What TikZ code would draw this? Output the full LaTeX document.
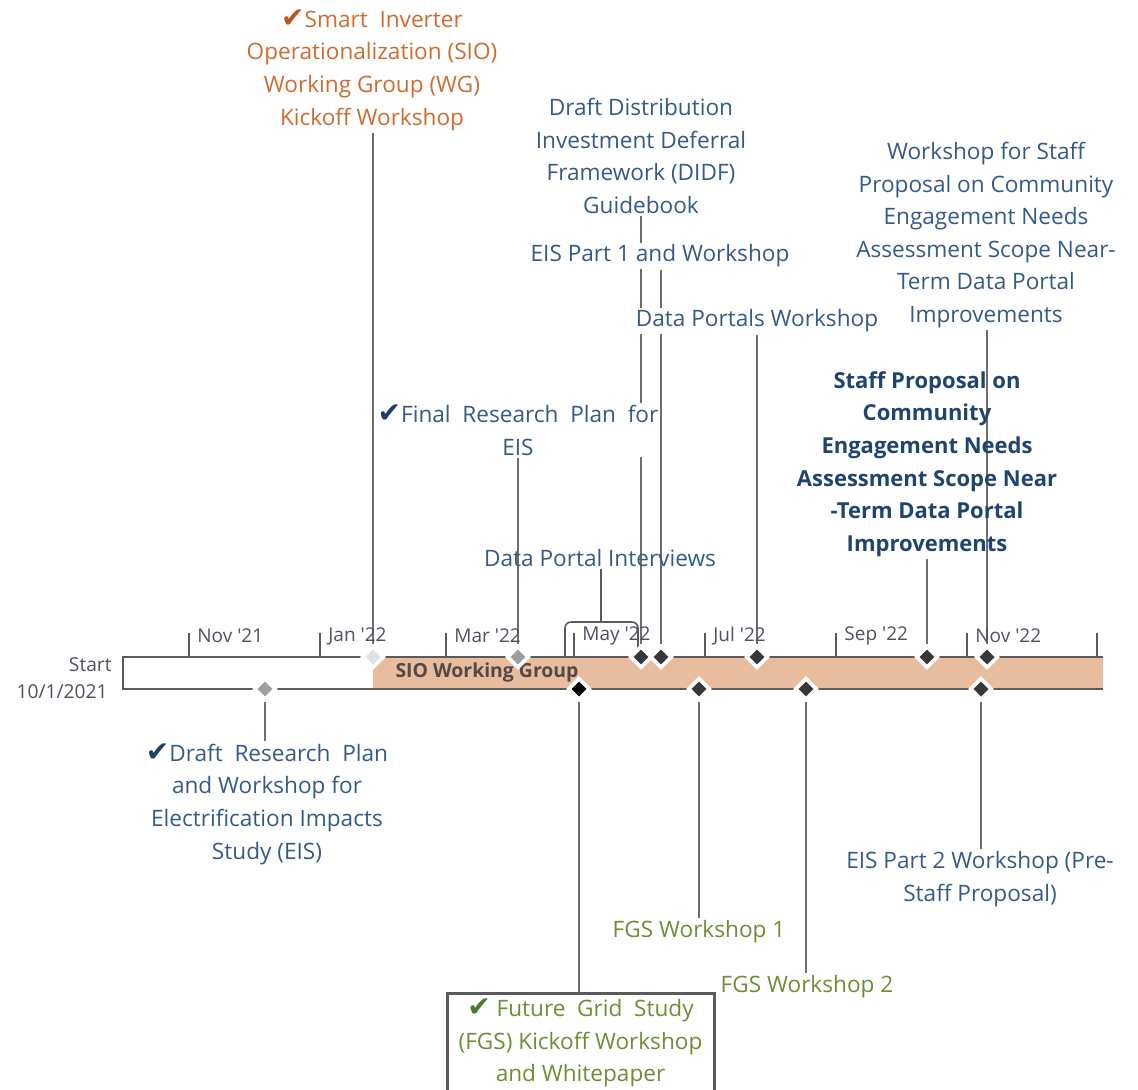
\documentclass[tikz,border=0pt]{standalone}
\usepackage{fontspec}
\setmainfont{Open Sans}
\newfontfamily\symfont{DejaVu Sans}
\usetikzlibrary{shapes,positioning,calc}

\definecolor{sioorange}{RGB}{205,108,48}
\definecolor{siocheck}{RGB}{190,85,25}
\definecolor{txtblue}{RGB}{52,90,135}
\definecolor{boldblue}{RGB}{31,68,110}
\definecolor{chkblue}{RGB}{30,62,105}
\definecolor{fgsgreen}{RGB}{108,142,52}
\definecolor{chkgreen}{RGB}{72,122,40}
\definecolor{linegray}{RGB}{110,110,110}
\definecolor{axisgray}{RGB}{90,90,90}
\definecolor{peach}{RGB}{232,188,158}
\definecolor{monthtxt}{RGB}{75,82,98}
\definecolor{bartxt}{RGB}{85,72,70}

\newcommand{\donemark}[1]{{\symfont\fontsize{14}{16.3}\selectfont\color{#1}✔}}

\pgfdeclarelayer{bg}
\pgfsetlayers{bg,main}

\tikzset{
  lbl/.style={align=center, inner sep=1pt, font=\fontsize{11.3}{16.3}\selectfont},
  hide/.style={fill=white},
  ms/.style={diamond, draw=white, line width=1.8pt, inner sep=0pt, minimum size=11pt, fill=#1},
  stem/.style={draw=linegray, line width=0.6pt},
  month/.style={anchor=west, inner sep=0pt, text=monthtxt, font=\fontsize{9.5}{11}\selectfont}
}

\begin{document}
\begin{tikzpicture}[x=0.5pt,y=-0.5pt]
\useasboundingbox (0,0) rectangle (1138,1089);

		% labels above the bar
		\node[lbl, hide, text=sioorange] (sio) at (372,70) {\donemark{siocheck}Smart\ \ Inverter\\Operationalization (SIO)\\Working Group (WG)\\Kickoff Workshop};
		\node[lbl, hide, text=txtblue] (didf) at (641,156) {Draft Distribution\\Investment Deferral\\Framework (DIDF)\\Guidebook};
		\node[lbl, hide, text=txtblue] (wsp) at (986,235) {Workshop for Staff\\Proposal on Community\\Engagement Needs\\Assessment Scope Near-\\Term Data Portal\\Improvements};
		\node[lbl, hide, text=txtblue] (eis1) at (660,256) {EIS Part 1 and Workshop};
		\node[lbl, hide, text=txtblue] (dpw) at (757,321) {Data Portals Workshop};
		\node[lbl, text=boldblue, font=\fontsize{11}{16.3}\selectfont\bfseries] (sp) at (927,464) {Staff Proposal on\\Community\\Engagement Needs\\Assessment Scope Near\\-Term Data Portal\\Improvements};
		\node[lbl, hide, text=txtblue] (frp) at (518,430) {\donemark{chkblue}Final\ \ Research\ \ Plan\ \ for\\EIS};
		\node[lbl, text=txtblue] (dpi) at (600,558) {Data Portal Interviews};

		% labels below the bar
		\node[lbl, text=txtblue] (drp) at (267,804) {\donemark{chkblue}Draft\ \ Research\ \ Plan\\and Workshop for\\Electrification Impacts\\Study (EIS)};
		\node[lbl, text=fgsgreen] (fgs1) at (699,932) {FGS Workshop 1};
		\node[lbl, text=fgsgreen] (fgs2) at (807,987) {FGS Workshop 2};
		\node[lbl, text=txtblue] (eis2) at (980,879) {EIS Part 2 Workshop (Pre-\\Staff Proposal)};
		\node[lbl, text=fgsgreen, draw=axisgray, line width=1.5pt, minimum width=133.5pt, minimum height=49.5pt] (fgs) at (580.5,1043) {\donemark{chkgreen}\ Future\ \ Grid\ \ Study\\(FGS) Kickoff Workshop\\and Whitepaper};

		% start
		\node[anchor=east, inner sep=0pt, text=monthtxt, font=\fontsize{9.6}{11}\selectfont] (start) at (112,665) {Start};
		\node[anchor=east, inner sep=0pt, text=monthtxt, font=\fontsize{9.6}{11}\selectfont] (startdate) at (108,692) {10/1/2021};

		% bar
		\begin{pgfonlayer}{bg}
		\fill[peach] (373,657) rectangle (1103,689);
		\end{pgfonlayer}
		\draw[axisgray, line width=1pt] (1103,657) -- (123,657) -- (123,689) -- (1103,689);
		\node[inner sep=0pt, text=bartxt, font=\fontsize{9.7}{11}\selectfont\bfseries] (sio-bar) at (487,672) {SIO Working Group};

		\foreach \x/\m in {189/Nov \textquotesingle21, 320/Jan \textquotesingle22, 446/Mar \textquotesingle22, 574/May \textquotesingle22, 705/Jul \textquotesingle22, 836/Sep \textquotesingle22, 967/Nov \textquotesingle22}{
			\draw[axisgray, line width=0.7pt] (\x,633) -- (\x,657);
			\node[month] at (\x+8,636) {\m};
		}
		\draw[axisgray, line width=0.7pt] (1097,633) -- (1097,657);

		% milestones
		\node[ms=black!12] (m-sio) at (373,657) {};
		\node[ms=black!38] (m-frp) at (518,657) {};
		\node[ms=black!78] (m-didf) at (641,657) {};
		\node[ms=black!78] (m-eis1) at (661,657) {};
		\node[ms=black!78] (m-dpw) at (757,657) {};
		\node[ms=black!78] (m-sp) at (927,657) {};
		\node[ms=black!78] (m-wsp) at (987,657) {};
		\node[ms=black!38] (m-drp) at (265,689) {};
		\node[ms=black] (m-fgs) at (579,689) {};
		\node[ms=black!78] (m-fgs1) at (699,689) {};
		\node[ms=black!78] (m-fgs2) at (806,689) {};
		\node[ms=black!78] (m-eis2) at (981,689) {};

		% bracket
		\coordinate (br-a) at (565,657);
		\coordinate (br-top) at (601,622);
		\coordinate (br-b) at (638,650);

		\begin{pgfonlayer}{bg}
		\draw[stem] (sio.south -| m-sio) -- (m-sio);
		\draw[stem] (didf.south -| m-didf) -- (m-didf);
		\draw[stem] (eis1.south -| m-eis1) -- (m-eis1);
		\draw[stem] (dpw.south -| m-dpw) -- (m-dpw);
		\draw[stem] (wsp.south -| m-wsp) -- (m-wsp);
		\draw[stem] (sp.south -| m-sp) -- (m-sp);
		\draw[stem] (frp.south -| m-frp) -- (m-frp);
		\draw[stem] (m-drp) -- (drp.north -| m-drp);
		\draw[stem] (m-fgs) -- (fgs.north -| m-fgs);
		\draw[stem] (m-fgs1) -- (fgs1.north -| m-fgs1);
		\draw[stem] (m-fgs2) -- (fgs2.north -| m-fgs2);
		\draw[stem] (m-eis2) -- (eis2.north -| m-eis2);
		\draw[axisgray, line width=0.8pt, rounded corners=3pt] (br-a) |- (br-top) -| (br-b);
		\draw[axisgray, line width=0.8pt] (dpi.south -| br-top) -- (br-top);
		\end{pgfonlayer}
\end{tikzpicture}
\end{document}
